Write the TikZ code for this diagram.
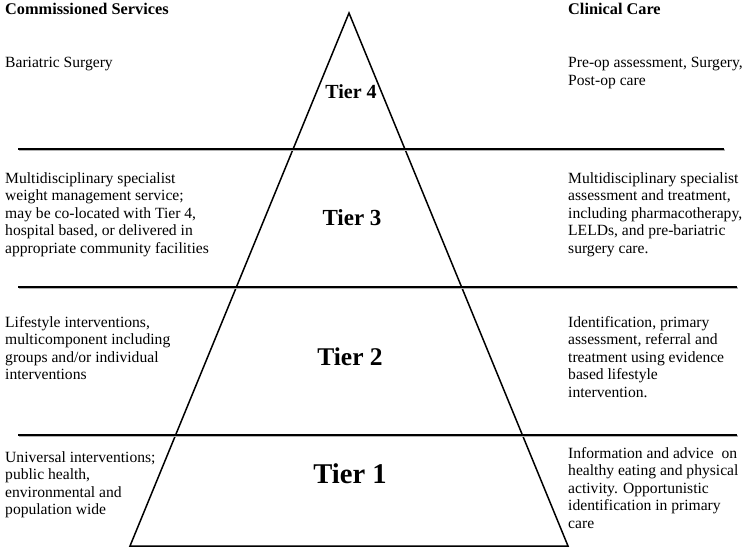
\documentclass[tikz,border=0pt]{standalone}
\usepackage{fontspec}
\setmainfont{Liberation Serif}
\usepackage{tikz}
\tikzstyle{heading} = [anchor=north west, inner sep=0, font=\fontsize{16.3}{19}\selectfont\bfseries, text=black]
\tikzstyle{careText} = [anchor=north west, inner sep=0, align=left, font=\fontsize{15.6}{17.5}\selectfont, text=black]
\tikzstyle{tierLabel} = [inner sep=0, font=\bfseries, text=black]
\tikzstyle{tierLine} = [line width=2.6pt, black]
\tikzstyle{tierShadow} = [line width=2pt, black!30]

\begin{document}
\begin{tikzpicture}[x=1pt, y=-1pt]
	\useasboundingbox (0, 0) rectangle (755, 558);
	\coordinate (apex) at (349, 13);
	\coordinate (baseL) at (130, 546);
	\coordinate (baseR) at (568, 546);
	\draw[line width=1.5pt, line join=miter] (apex) -- (baseL) -- (baseR) -- cycle;

	\coordinate (line1L) at (18, 149);
	\coordinate (line1R) at (724, 149);
	\coordinate (line2L) at (18, 287);
	\coordinate (line2R) at (737, 287);
	\coordinate (line3L) at (18, 435);
	\coordinate (line3R) at (737, 435);
	\foreach \i in {1,2,3} {
		\draw[tierShadow] ([shift={(0.8,1.2)}]line\i L) -- ([shift={(0.8,1.2)}]line\i R);
		\draw[tierLine] (line\i L) -- (line\i R);
	}

	\node (commissioned) at (5, 3) [heading] {Commissioned Services};
	\node (clinical) at (568, 3) [heading] {Clinical Care};

	\node (tier4) at (351, 92) [tierLabel, font=\fontsize{20}{24}\selectfont\bfseries] {Tier 4};
	\node (tier3) at (352, 218) [tierLabel, font=\fontsize{23}{27}\selectfont\bfseries] {Tier 3};
	\node (tier2) at (350, 357) [tierLabel, font=\fontsize{25.5}{30}\selectfont\bfseries] {Tier 2};
	\node (tier1) at (350, 474) [tierLabel, font=\fontsize{28.6}{34}\selectfont\bfseries] {Tier 1};

	\node (service4) at (5, 57) [careText] {Bariatric Surgery};
	\node (care4) at (568, 57) [careText] {Pre-op assessment, Surgery,\\Post-op care};

	\node (service3) at (5, 172) [careText] {Multidisciplinary specialist\\weight management service;\\may be co-located with Tier 4,\\hospital based, or delivered in\\appropriate community facilities};
	\node (care3) at (568, 172) [careText] {Multidisciplinary specialist\\assessment and treatment,\\including pharmacotherapy,\\LELDs, and pre-bariatric\\surgery care.};

	\node (service2) at (5, 316) [careText] {Lifestyle interventions,\\multicomponent including\\groups and/or individual\\interventions};
	\node (care2) at (568, 316) [careText] {Identification, primary\\assessment, referral and\\treatment using evidence\\based lifestyle\\intervention.};

	\node (service1) at (5, 451) [careText] {Universal interventions;\\public health,\\environmental and\\population wide};
	\node (care1) at (568, 447) [careText] {Information and advice~ on\\healthy eating and physical\\activity. Opportunistic\\identification in primary\\care};
\end{tikzpicture}
\end{document}
